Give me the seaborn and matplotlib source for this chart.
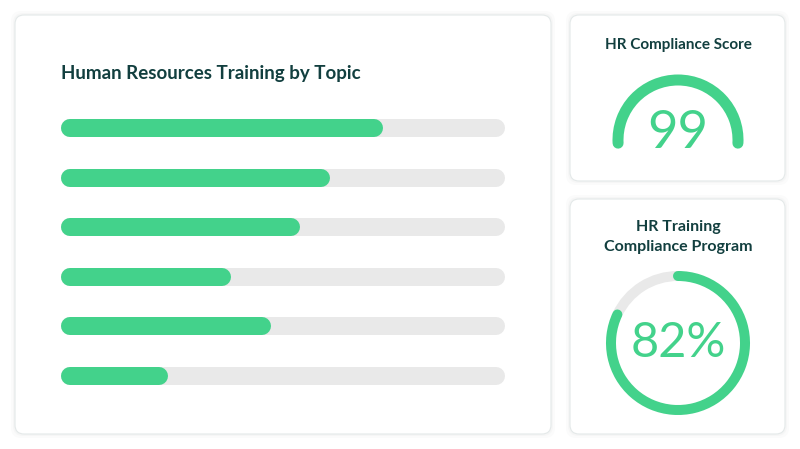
import matplotlib
matplotlib.use('Agg')
import matplotlib.pyplot as plt
import seaborn as sns
from matplotlib.patches import FancyBboxPatch, Arc

# data
topics = ['Topic 1', 'Topic 2', 'Topic 3', 'Topic 4', 'Topic 5', 'Topic 6']
progress = [0.725, 0.606, 0.538, 0.383, 0.473, 0.241]
compliance_score = 99
program_pct = 82

GREEN = '#43D28B'
GREY = '#E9E9E9'
DARK = '#123F3F'

sns.set_theme(style='white')
plt.rcParams['font.family'] = ['Lato', 'DejaVu Sans']

fig = plt.figure(figsize=(8, 4.49), dpi=100)
fig.patch.set_facecolor('white')

# background axis in pixel coords (y up)
bg = fig.add_axes([0, 0, 1, 1])
bg.set_xlim(0, 800)
bg.set_ylim(0, 449)
bg.axis('off')

def card(x0, y0, x1, y1):
    # y in image pixels (top-down)
    for off, a in [(4, 0.04), (2, 0.05)]:
        bg.add_patch(FancyBboxPatch((x0 - off, 449 - y1 - off), x1 - x0 + 2 * off, y1 - y0 + 2 * off,
                                    boxstyle='round,pad=0,rounding_size=10', fc='#9aa8a8', ec='none', alpha=a))
    bg.add_patch(FancyBboxPatch((x0, 449 - y1), x1 - x0, y1 - y0,
                                boxstyle='round,pad=0,rounding_size=9', fc='white', ec='#E4E9E9', lw=0.8))

card(15, 15, 551, 434)
card(570, 15, 785, 181)
card(570, 199, 785, 434)

bg.text(61, 449 - 73, 'Human Resources Training by Topic', fontsize=13.5, fontweight='bold',
        color=DARK, va='center', ha='left')

# bar chart axis: x 61..505 px, y 118..386 px
ax = fig.add_axes([61 / 800, (449 - 386) / 449, 444 / 800, 268 / 449])
sns.barplot(x=progress, y=topics, orient='h', ax=ax, color=GREEN)
ax.set_xlim(0, 1)
ax.set_ylim(5.2, -0.2)
ax.axis('off')
cap = 9 / 444
lw = 18 * 72 / 100
for p in list(ax.patches):
    yc = p.get_y() + p.get_height() / 2
    w = p.get_width()
    p.set_visible(False)
    ax.plot([cap, 1 - cap], [yc, yc], color=GREY, lw=lw, solid_capstyle='round')
    ax.plot([cap, w - cap], [yc, yc], color=GREEN, lw=lw, solid_capstyle='round')

# gauge 1
bg.text(678, 449 - 45, 'HR Compliance Score', fontsize=11, fontweight='bold', color=DARK,
        ha='center', va='center')
g = Arc((678, 449 - 140), 120, 120, theta1=-3, theta2=183, color=GREEN, lw=11 * 0.72)
g.set_capstyle('round')
bg.add_patch(g)
bg.text(678, 449 - 133, str(compliance_score), fontsize=38, color=GREEN, ha='center', va='center')

# gauge 2
bg.text(678, 449 - 237, 'HR Training\nCompliance Program', fontsize=11.5, fontweight='bold', color=DARK,
        ha='center', va='center', linespacing=1.5)
c = (678, 449 - 343)
end = 90 - 360 * program_pct / 100
bg.add_patch(Arc(c, 134, 134, theta1=90, theta2=end + 360, color=GREY, lw=10 * 0.72))
ga = Arc(c, 134, 134, theta1=end, theta2=90, color=GREEN, lw=10 * 0.72)
ga.set_capstyle('round')
bg.add_patch(ga)
bg.text(678, 449 - 343, f'{program_pct}%', fontsize=35, color=GREEN, ha='center', va='center')

fig.savefig('out.png', dpi=100)
